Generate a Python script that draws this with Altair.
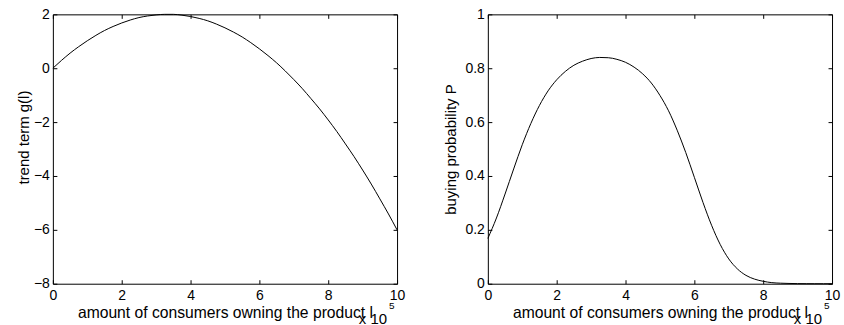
import altair as alt
import pandas as pd

# amount of consumers owning the product, in units of 10^5
l_vals = [0.0, 0.25, 0.5, 0.75, 1.0, 1.25, 1.5, 1.75, 2.0, 2.25,
          2.5, 2.75, 3.0, 3.25, 3.5, 3.75, 4.0, 4.25, 4.5, 4.75,
          5.0, 5.25, 5.5, 5.75, 6.0, 6.25, 6.5, 6.75, 7.0, 7.25,
          7.5, 7.75, 8.0, 8.25, 8.5, 8.75, 9.0, 9.25, 9.5, 9.75, 10.0]

# trend term g(l)
trend_g = [0.00, 0.29, 0.56, 0.80, 1.02, 1.22, 1.40, 1.55, 1.68, 1.79,
           1.88, 1.94, 1.98, 2.00, 2.00, 1.97, 1.92, 1.85, 1.76, 1.64,
           1.50, 1.34, 1.16, 0.95, 0.72, 0.47, 0.20, -0.10, -0.42, -0.76,
           -1.13, -1.51, -1.92, -2.35, -2.81, -3.28, -3.78, -4.30, -4.85, -5.41, -6.00]

# buying probability P
buy_p = [0.168, 0.244, 0.333, 0.426, 0.516, 0.595, 0.662, 0.716, 0.757, 0.788,
         0.811, 0.826, 0.836, 0.840, 0.839, 0.833, 0.822, 0.804, 0.779, 0.745,
         0.699, 0.642, 0.570, 0.487, 0.395, 0.302, 0.217, 0.146, 0.092, 0.055,
         0.031, 0.017, 0.009, 0.004, 0.002, 0.001, 0.0004, 0.0002, 0.0001, 0.0, 0.0]

x_ticks = [0, 2, 4, 6, 8, 10]
g_ticks = [-8, -6, -4, -2, 0, 2]
p_ticks = [0, 0.2, 0.4, 0.6, 0.8, 1]

x_title = "amount of consumers owning the product l"
exp_base = ["x 10"]
exp_power = ["5"]

df = pd.DataFrame({"l": l_vals, "g": trend_g, "p": buy_p})
exp_df = pd.DataFrame({"base": exp_base, "power": exp_power})

W, H = 345, 270
FONT = "Liberation Sans"
TICK = 4
NUM_FMT = ".6~g"


def panel(field, y_title, y_domain, y_ticks, title_pad, title_y):
    xs = alt.Scale(domain=[0, 10], nice=False, zero=False)
    ys = alt.Scale(domain=y_domain, nice=False, zero=False)
    base = alt.Chart(df)

    def tick_axis(orient, values, offset):
        return alt.Axis(orient=orient, offset=offset, values=values, labels=False,
                        domain=False, ticks=True, tickSize=TICK, tickColor="black",
                        grid=False, title=None)

    # the curve, with outside labels and titles
    curve = base.mark_line(color="black", strokeWidth=1, interpolate="monotone").encode(
        x=alt.X("l:Q", scale=xs,
                axis=alt.Axis(orient="bottom", values=x_ticks, format=NUM_FMT, ticks=False,
                              domain=False, grid=False, labelFlush=False, labelOverlap=False,
                              labelPadding=5, title=x_title, titlePadding=3,
                              titleFontSize=15.7)),
        y=alt.Y(f"{field}:Q", scale=ys,
                axis=alt.Axis(orient="left", values=y_ticks, format=NUM_FMT, ticks=False,
                              domain=False, grid=False, labelOverlap=False,
                              labelPadding=3.5, title=y_title, titlePadding=title_pad,
                              titleY=title_y)),
    )
    # inward ticks on the bottom and left edges
    ticks_a = base.mark_line(opacity=0).encode(
        x=alt.X("l:Q", scale=xs, axis=tick_axis("top", x_ticks, -H)),
        y=alt.Y(f"{field}:Q", scale=ys, axis=tick_axis("right", y_ticks, -W)),
    )
    # inward ticks on the top and right edges
    ticks_b = base.mark_line(opacity=0).encode(
        x=alt.X("l:Q", scale=xs, axis=tick_axis("bottom", x_ticks, -H)),
        y=alt.Y(f"{field}:Q", scale=ys, axis=tick_axis("left", y_ticks, -W)),
    )
    # scale factor note below the right end of the x axis
    exp_text = alt.Chart(exp_df).mark_text(
        align="right", baseline="alphabetic", dx=-10, dy=40, fontSize=15, font=FONT, color="black"
    ).encode(
        x=alt.XDatum(10, axis=None, scale=xs),
        y=alt.YDatum(y_domain[0], axis=None, scale=ys),
        text="base:N",
    )
    exp_sup = alt.Chart(exp_df).mark_text(
        align="left", baseline="alphabetic", dx=-8, dy=25, fontSize=10, font=FONT, color="black"
    ).encode(
        x=alt.XDatum(10, axis=None, scale=xs),
        y=alt.YDatum(y_domain[0], axis=None, scale=ys),
        text="power:N",
    )
    return alt.layer(curve, ticks_a, ticks_b, exp_text, exp_sup).resolve_axis(
        x="independent", y="independent"
    ).properties(width=W, height=H)


left = panel("g", "trend term g(l)", [-8, 2], g_ticks, 2, 123)
right = panel("p", "buying probability P", [0, 1], p_ticks, 6, 135)

chart = alt.hconcat(left, right, spacing=37).configure(
    padding={"left": 16, "top": 6, "right": 3, "bottom": 0}
).configure_view(
    stroke="black", strokeWidth=1
).configure_axis(
    labelFont=FONT, titleFont=FONT, labelFontSize=14, titleFontSize=15,
    labelColor="black", titleColor="black", titleFontWeight="normal",
)

chart.save("out.html", embed_options={"renderer": "svg", "actions": False})
